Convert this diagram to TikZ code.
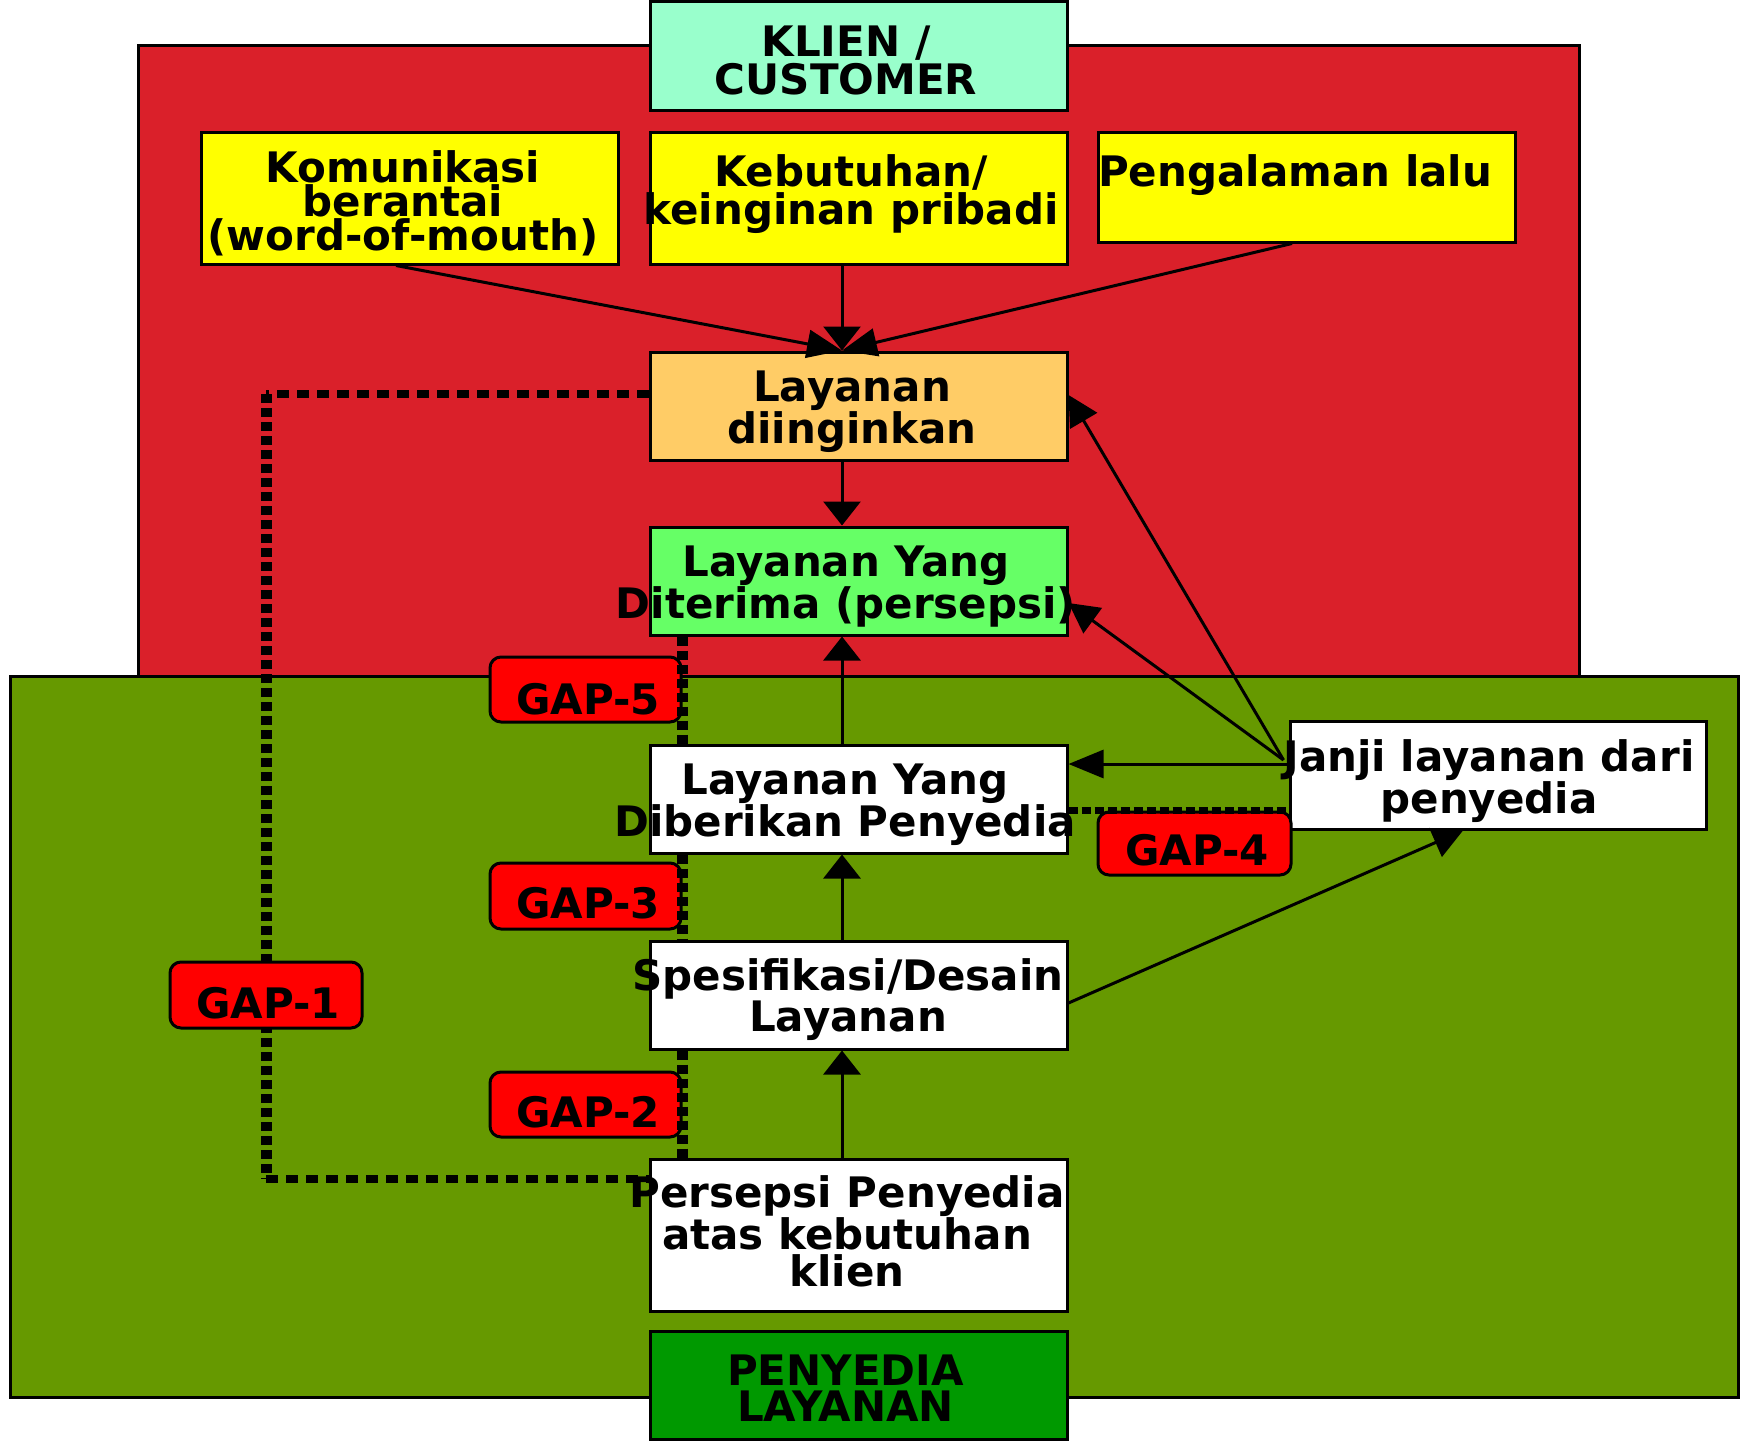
\documentclass[tikz,border=0pt]{standalone}
\usepackage{fontspec}
\setmainfont{DejaVu Sans}
\usetikzlibrary{arrows.meta,calc}
\definecolor{redbg}{HTML}{DA202A}
\definecolor{greenbg}{HTML}{669900}
\definecolor{klien}{HTML}{99FFCC}
\definecolor{ylw}{HTML}{FFFF00}
\definecolor{orng}{HTML}{FFCC66}
\definecolor{lgreen}{HTML}{66FF66}
\definecolor{dgreen}{HTML}{009900}
\definecolor{gapred}{HTML}{FF0000}
\tikzset{
  box/.style={draw=black, line width=3pt, inner sep=0pt, minimum width=417pt, minimum height=108pt},
  area/.style={draw=black, line width=3pt, inner sep=0pt},
  gapbox/.style={draw=black, fill=gapred, line width=3pt, rounded corners=11pt, inner sep=0pt, minimum width=191pt, minimum height=65pt},
  lbl/.style={inner sep=0pt, anchor=base, align=center, font=\bfseries\fontsize{42}{37.7}\selectfont},
  gaplbl/.style={inner sep=0pt, anchor=base, font=\bfseries\fontsize{42}{40}\selectfont},
  flow/.style={line width=3pt, -{Triangle[length=24pt,width=37pt]}},
  hflow/.style={line width=3pt, -{Triangle[length=35pt,width=28pt]}},
  dflow/.style={line width=3pt, -{Triangle[length=30pt,width=31pt]}},
  dottedh/.style={line width=8pt, dash pattern=on 12pt off 8pt},
  dottedv/.style={line width=11pt, dash pattern=on 9pt off 5pt},
  dottedg/.style={line width=7pt, dash pattern=on 9pt off 4pt},
}
\begin{document}
\begin{tikzpicture}[x=1pt,y=-1pt]
\useasboundingbox[fill=white] (0,0) rectangle (1744,1440);
% zones
\node[area, fill=redbg, minimum width=1441pt, minimum height=631pt] (redzone) at (858.5,360.5) {};
\node[area, fill=greenbg, minimum width=1728pt, minimum height=721pt] (greenzone) at (874,1036.5) {};
% main boxes
\node[box, fill=klien, minimum height=108.5pt] (klien) at (858.5,56) {};
\node[box, fill=ylw, minimum height=132pt] (kom) at (409.5,198) {};
\node[box, fill=ylw, minimum height=132pt] (keb) at (858.5,198) {};
\node[box, fill=ylw, minimum height=110pt] (pen) at (1306.5,187) {};
\node[box, fill=orng] (lay) at (858.5,406) {};
\node[box, fill=lgreen] (dit) at (858.5,581) {};
\node[box, fill=white] (dib) at (858.5,799) {};
\node[box, fill=white, minimum width=416pt] (janji) at (1498,775) {};
\node[box, fill=white] (spe) at (858.5,995) {};
\node[box, fill=white, minimum height=152pt] (per) at (858.5,1235) {};
\node[box, fill=dgreen] (peny) at (858.5,1385) {};
% GAP-1 dotted connector
\coordinate (g1top) at (266,394);
\coordinate (g1bot) at (266,1178.5);
\draw[dottedh] ([yshift=12pt]lay.west) -- (g1top);
\draw[dottedv] (g1top) -- (g1bot);
\draw[dottedh] (g1bot) -- ([yshift=56.5pt]per.west);
% GAP boxes
\node[gapbox, minimum width=192pt, minimum height=66pt] (g1) at (266,995) {};
\node[gapbox] (g5) at (585.5,689.5) {};
\node[gapbox, minimum height=66pt] (g3) at (585.5,896) {};
\node[gapbox] (g2) at (585.5,1104.5) {};
\node[gapbox, minimum width=193pt, minimum height=63pt] (g4) at (1194.5,843.5) {};
% vertical dotted connectors
\draw[dottedv] ([xshift=-176.5pt]dit.south) -- ([xshift=-176.5pt]dib.north);
\draw[dottedv] ([xshift=-176.5pt]dib.south) -- ([xshift=-176.5pt]spe.north);
\draw[dottedv] ([xshift=-176.5pt]spe.south) -- ([xshift=-176.5pt]per.north);
\draw[dottedg] ([yshift=-11pt]dib.east) -- ([yshift=-35pt]janji.west);
% arrows
\draw[hflow] ([xshift=-13.5pt]kom.south) -- ([xshift=-16.5pt]lay.north);
\draw[flow] ([xshift=-16.5pt]keb.south) -- ([xshift=-16.5pt]lay.north);
\draw[hflow] ([xshift=-14.5pt]pen.south) -- ([xshift=-16.5pt]lay.north);
\draw[flow] ([xshift=-16.5pt]lay.south) -- ([xshift=-16.5pt]dit.north);
\draw[flow] ([xshift=-16.5pt]dib.north) -- ([xshift=-16.5pt]dit.south);
\draw[flow] ([xshift=-16.5pt]spe.north) -- ([xshift=-16.5pt]dib.south);
\draw[flow] ([xshift=-16.5pt]per.north) -- ([xshift=-16.5pt]spe.south);
\draw[hflow] ([yshift=11pt]janji.west) -- ([yshift=35pt]dib.east);
\draw[dflow] ([xshift=-5pt,yshift=15pt]janji.west) -- ([yshift=11pt]lay.east);
\draw[dflow] ([xshift=-5pt,yshift=15pt]janji.west) -- ([yshift=-22pt]dit.east);
\draw[dflow] ([yshift=-8pt]spe.east) -- ([xshift=-35pt]janji.south);
% texts (anchor base = last line)
\node[lbl] (klien-t) at (846,94.3) {KLIEN /\\CUSTOMER};
\node[lbl, font=\bfseries\fontsize{42}{34}\selectfont] (kom-t) at (403,250.7) {Komunikasi\\berantai\\(word-of-mouth)};
\node[lbl] (keb-t) at (851,224) {Kebutuhan/\\keinginan pribadi};
\node[lbl] (pen-t) at (1295,186.7) {Pengalaman lalu};
\node[lbl] (lay-t) at (852,443) {Layanan\\diinginkan};
\node[lbl] (dit-t) at (846,618) {Layanan Yang\\Diterima (persepsi)};
\node[lbl] (dib-t) at (845,836) {Layanan Yang\\Diberikan Penyedia};
\node[lbl] (janji-t) at (1489,813) {Janji layanan dari\\penyedia};
\node[lbl, font=\bfseries\fontsize{42}{38}\selectfont] (spe-t) at (848,1031) {Spesifikasi/Desain\\Layanan};
\node[lbl] (per-t) at (847,1286.7) {Persepsi Penyedia\\atas kebutuhan\\klien};
\node[lbl, font=\bfseries\fontsize{42}{36.7}\selectfont] (peny-t) at (845.5,1421.7) {PENYEDIA\\LAYANAN};
\node[gaplbl] (g5-t) at (588,714) {GAP-5};
\node[gaplbl] (g3-t) at (588,918.6) {GAP-3};
\node[gaplbl] (g2-t) at (588,1127) {GAP-2};
\node[gaplbl] (g1-t) at (268,1018) {GAP-1};
\node[gaplbl] (g4-t) at (1197,865) {GAP-4};
\end{tikzpicture}
\end{document}
